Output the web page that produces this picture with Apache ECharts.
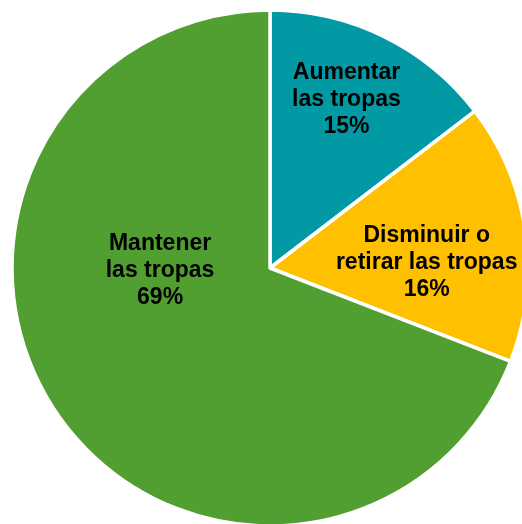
<!DOCTYPE html>
<html>
<head>
<meta charset="utf-8">
<script src="https://cdn.jsdelivr.net/npm/echarts@6/dist/echarts.min.js"></script>
<style>
    html, body {margin: 0; padding: 0; background: #fff;}
    #chart {width: 522px; height: 524px;}
</style>
</head>
<body>
<div id="chart"></div>
<script>
    // categorias y valores (%)
    const names = ['Aumentar\nlas tropas', 'Disminuir o\nretirar las tropas', 'Mantener\nlas tropas'];
    const values = [14.6, 16.3, 69.1];
    const colors = ['#0099A4', '#FFC000', '#519E31'];
    // ajuste de etiquetas como en el original
    const labelOffsets = [[18, -50], [26, 13], [-1, -72]];

    const chart = echarts.init(document.getElementById('chart'));

    const option = {
        animation: false,
        series: [
            {
                type: 'pie',
                center: [270, 268],
                radius: 258,
                startAngle: 90,
                clockwise: true,
                data: names.map((n, i) => ({
                    name: n,
                    value: values[i],
                    itemStyle: {color: colors[i]},
                    label: {offset: labelOffsets[i]},
                })),
                itemStyle: {
                    borderColor: '#fff',
                    borderWidth: 3.5,
                },
                label: {
                    show: true,
                    position: 'inside',
                    formatter: p => p.name + '\n' + Math.round(p.value) + '%',
                    fontFamily: 'Liberation Sans, Arial, sans-serif',
                    fontWeight: 'bold',
                    fontSize: 23,
                    lineHeight: 27,
                    color: '#000',
                    align: 'center',
                },
                labelLine: {show: false},
                emphasis: {disabled: true},
            }
        ]
    };
    chart.setOption(option);
</script>
</body>
</html>
